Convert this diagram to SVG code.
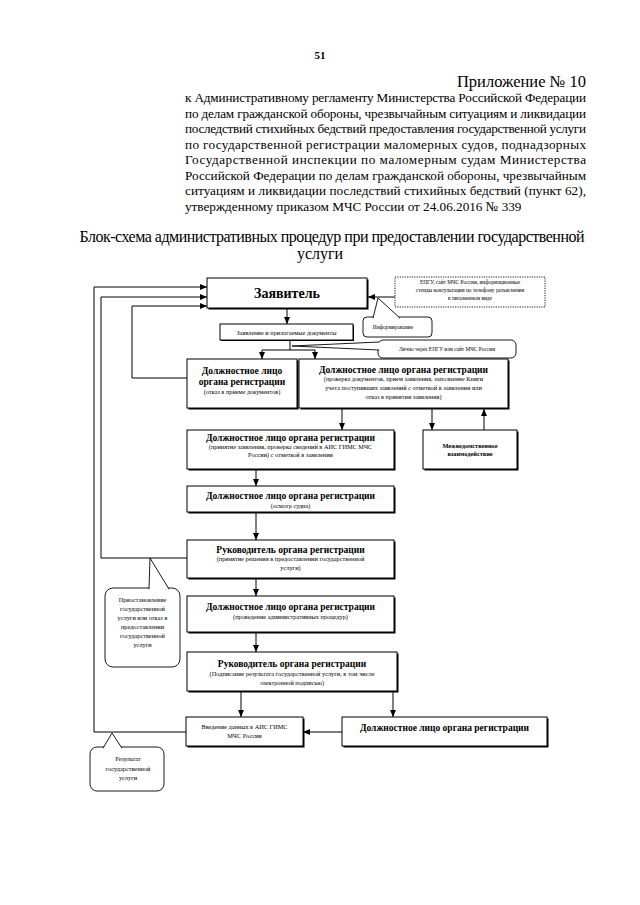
<svg xmlns="http://www.w3.org/2000/svg" width="640" height="905" viewBox="0 0 640 905">
<defs>
<marker id="ar" markerWidth="7" markerHeight="6" refX="7" refY="3" orient="auto" markerUnits="userSpaceOnUse">
<path d="M0,0 L7,3 L0,6 z" fill="#000"/>
</marker>
</defs>
<style>
text{font-family:"Liberation Serif","Times New Roman",serif;fill:#000}
.hd{font-size:13.2px}
.c{text-anchor:middle}
.b{font-weight:bold}
.t{font-size:9.5px;font-weight:bold}
.s{font-size:6.3px}
.xs{font-size:5.4px}
.box{fill:#fff;stroke:#000;stroke-width:1}
.sh{fill:#000}
.ln{fill:none;stroke:#000;stroke-width:1}
.ar{fill:none;stroke:#000;stroke-width:1;marker-end:url(#ar)}
.cl{fill:#fff;stroke:#000;stroke-width:0.9}
.dot{fill:#fff;stroke:#000;stroke-width:0.9;stroke-dasharray:1.2,1.2}
</style>
<rect width="640" height="905" fill="#fff"/>

<g id="header">
<text x="320" y="59" class="c b" style="font-size:11px">51</text>
<text x="586" y="86.5" style="font-size:16.5px;text-anchor:end">Приложение № 10</text>
<text x="185" y="102" class="hd" textLength="401" lengthAdjust="spacing">к Административному регламенту Министерства Российской Федерации</text>
<text x="185" y="117.5" class="hd" textLength="401" lengthAdjust="spacing">по делам гражданской обороны, чрезвычайным ситуациям и ликвидации</text>
<text x="185" y="133" class="hd" textLength="401" lengthAdjust="spacing">последствий стихийных бедствий предоставления государственной услуги</text>
<text x="185" y="148.5" class="hd" textLength="401" lengthAdjust="spacing">по государственной регистрации маломерных судов, поднадзорных</text>
<text x="185" y="164" class="hd" textLength="401" lengthAdjust="spacing">Государственной инспекции по маломерным судам Министерства</text>
<text x="185" y="179.5" class="hd" textLength="401" lengthAdjust="spacing">Российской Федерации по делам гражданской обороны, чрезвычайным</text>
<text x="185" y="195" class="hd" textLength="401" lengthAdjust="spacing">ситуациям и ликвидации последствий стихийных бедствий (пункт 62),</text>
<text x="185" y="210.5" class="hd">утвержденному приказом МЧС России от 24.06.2016 № 339</text>
<text x="332" y="242" class="c" style="font-size:16px" textLength="505" lengthAdjust="spacing">Блок-схема административных процедур при предоставлении государственной</text>
<text x="320" y="259" class="c" style="font-size:16px">услуги</text>
</g>

<g id="connectors">
<path class="ar" d="M287,309 V324"/>
<path class="ln" d="M290,340 V350 M262,350 H315"/>
<path class="ar" d="M262,350 V359"/>
<path class="ar" d="M315,350 V359"/>
<path class="ar" d="M395,297 H368"/>
<path class="ar" d="M186,732 H94 V287 H207"/>
<path class="ar" d="M187,558 H101 V297 H207"/>
<path class="ar" d="M187,378 H132 V306 H207"/>
<path class="ar" d="M342,408 V430"/>
<path class="ar" d="M432,408 V430"/>
<path class="ar" d="M484,430 V409"/>
<path class="ar" d="M256,469 V486"/>
<path class="ar" d="M256,512 V540"/>
<path class="ar" d="M256,578 V596"/>
<path class="ar" d="M256,632 V652"/>
<path class="ar" d="M241,691 V717"/>
<path class="ar" d="M393,691 V717"/>
<path class="ar" d="M342,732 H303"/>
</g>

<g id="n-zayavitel">
<rect x="208.5" y="279.5" width="160" height="30" class="sh"/>
<rect x="207" y="278" width="160" height="30" class="box"/>
<text x="287" y="298" class="c b" style="font-size:14px">Заявитель</text>
</g>

<g id="n-epgu">
<rect x="395" y="277" width="150" height="30" class="dot"/>
<text x="470" y="283.5" class="c xs">ЕПГУ, сайт МЧС России, информационные</text>
<text x="470" y="291.5" class="c xs">стенды консультации по телефону  разъяснения</text>
<text x="470" y="299.5" class="c xs">в письменном виде</text>
</g>

<g id="n-inform">
<rect x="363" y="317" width="69" height="20" rx="4" class="cl"/>
<polyline points="373,318.2 378,298 400,318.2" class="cl"/>
<text x="393" y="329" class="c xs">Информирование</text>
</g>

<g id="n-zayavlenie">
<rect x="221" y="325" width="133" height="16" class="sh"/>
<rect x="220" y="324" width="133" height="16" class="box"/>
<text x="286.5" y="334.5" class="c s">Заявление и прилагаемые документы</text>
</g>

<g id="n-lichno">
<rect x="378" y="340" width="138" height="18" rx="5" class="cl"/>
<polyline points="379.2,342 292,346 379.2,350" class="cl"/>
<text x="447" y="351" class="c xs">Лично  через ЕПГУ или сайт МЧС России</text>
</g>

<g id="n-otkaz">
<rect x="188.5" y="360.5" width="110" height="49" class="sh"/>
<rect x="187" y="359" width="110" height="49" class="box"/>
<text x="242" y="373.5" class="c t">Должностное лицо</text>
<text x="242" y="384.5" class="c t">органа регистрации</text>
<text x="242" y="393.5" class="c s">(отказ в приеме документов)</text>
</g>

<g id="n-proverka">
<rect x="300.5" y="360.5" width="209" height="49" class="sh"/>
<rect x="299" y="359" width="209" height="49" class="box"/>
<text x="403.5" y="372.5" class="c t">Должностное лицо органа регистрации</text>
<text x="403.5" y="380.5" class="c s">(проверка документов, прием заявления, заполнение Книги</text>
<text x="403.5" y="389.5" class="c s">учета поступивших заявлений с отметкой в заявлении или</text>
<text x="403.5" y="398.5" class="c s">отказ в принятии заявления)</text>
</g>

<g id="n-prinyatie">
<rect x="188.5" y="431.5" width="207" height="39" class="sh"/>
<rect x="187" y="430" width="207" height="39" class="box"/>
<text x="290.5" y="441" class="c t">Должностное лицо органа регистрации</text>
<text x="290.5" y="449" class="c s">(принятие заявления, проверка сведений в АИС ГИМС МЧС</text>
<text x="290.5" y="457" class="c s">России) с отметкой в заявлении</text>
</g>

<g id="n-mezhved">
<rect x="424.5" y="431.5" width="94" height="39" class="sh"/>
<rect x="423" y="430" width="94" height="39" class="box"/>
<text x="470" y="447.5" class="c s b">Межведомственное</text>
<text x="470" y="455.5" class="c s b">взаимодействие</text>
</g>

<g id="n-osmotr">
<rect x="188.5" y="487.5" width="207" height="26" class="sh"/>
<rect x="187" y="486" width="207" height="26" class="box"/>
<text x="290.5" y="499" class="c t">Должностное лицо органа регистрации</text>
<text x="290.5" y="507.5" class="c s">(осмотр судна)</text>
</g>

<g id="n-reshenie">
<rect x="188.5" y="541.5" width="207" height="38" class="sh"/>
<rect x="187" y="540" width="207" height="38" class="box"/>
<text x="290.5" y="552.5" class="c t">Руководитель органа регистрации</text>
<text x="290.5" y="561" class="c s">(принятие решения в предоставлении государственной</text>
<text x="290.5" y="569.5" class="c s">услуги)</text>
</g>

<g id="n-priostanovlenie">
<rect x="105" y="588" width="75" height="79" rx="8" class="cl"/>
<polyline points="149,589.2 150,558 169,589.2" class="cl"/>
<text x="142.5" y="601.5" class="c s">Приостановление</text>
<text x="142.5" y="610.5" class="c s">государственной</text>
<text x="142.5" y="619.5" class="c s">услуги или отказ в</text>
<text x="142.5" y="628.5" class="c s">предоставлении</text>
<text x="142.5" y="637.5" class="c s">государственной</text>
<text x="142.5" y="646.5" class="c s">услуги</text>
</g>

<g id="n-procedury">
<rect x="188.5" y="597.5" width="207" height="36" class="sh"/>
<rect x="187" y="596" width="207" height="36" class="box"/>
<text x="290.5" y="609.5" class="c t">Должностное лицо органа регистрации</text>
<text x="290.5" y="619" class="c s">(проведение административных процедур)</text>
</g>

<g id="n-podpisanie">
<rect x="188.5" y="653.5" width="210" height="39" class="sh"/>
<rect x="187" y="652" width="210" height="39" class="box"/>
<text x="292" y="666.5" class="c t">Руководитель органа регистрации</text>
<text x="292" y="675.5" class="c s">(Подписание результата государственной услуги, в том числе</text>
<text x="292" y="684.5" class="c s">электронной подписью)</text>
</g>

<g id="n-vvedenie">
<rect x="187.5" y="718.5" width="117" height="29" class="sh"/>
<rect x="186" y="717" width="117" height="29" class="box"/>
<text x="244.5" y="728.5" class="c s">Введение данных в АИС ГИМС</text>
<text x="244.5" y="737.5" class="c s">МЧС России</text>
</g>

<g id="n-dolzhnostnoe">
<rect x="343.5" y="718.5" width="205" height="29" class="sh"/>
<rect x="342" y="717" width="205" height="29" class="box"/>
<text x="444.5" y="730.5" class="c t">Должностное лицо органа регистрации</text>
</g>

<g id="n-rezultat">
<rect x="90" y="747" width="74" height="44" rx="7" class="cl"/>
<polyline points="103,748.2 112,733 122,748.2" class="cl"/>
<text x="128" y="761" class="c s">Результат</text>
<text x="128" y="770.5" class="c s">государственной</text>
<text x="128" y="780" class="c s">услуги</text>
</g>
</svg>
